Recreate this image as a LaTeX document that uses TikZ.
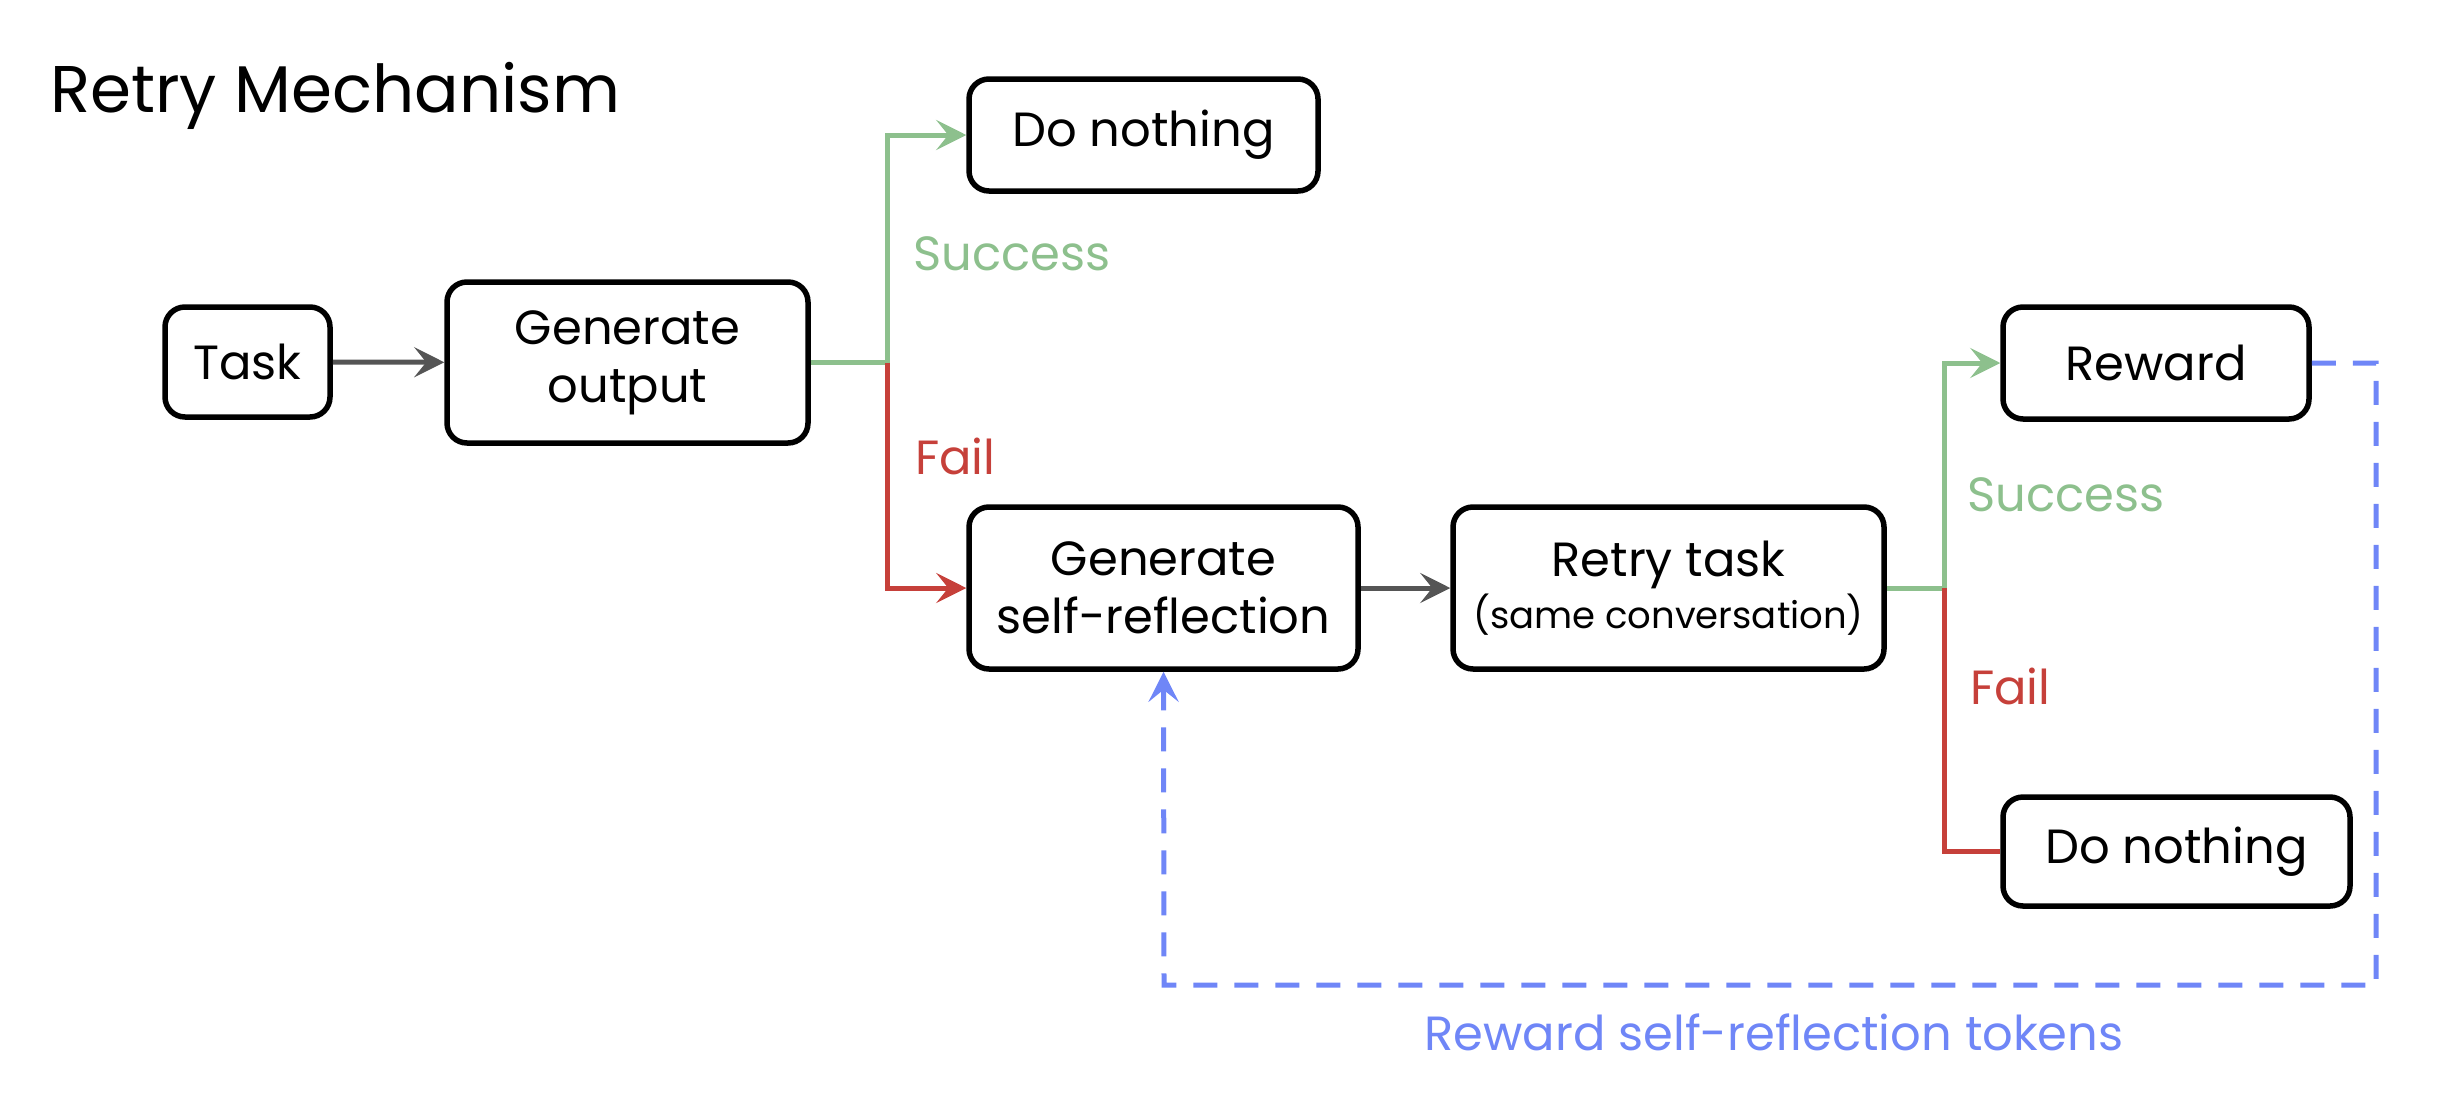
\documentclass[tikz,border=0pt]{standalone}
\usepackage{fontspec}
\setmainfont{Poppins}
\usetikzlibrary{arrows.meta,positioning}
\definecolor{okgreen}{HTML}{8DC08D}
\definecolor{failred}{HTML}{C6403A}
\definecolor{tokblue}{HTML}{6F86F7}
\definecolor{arrgrey}{HTML}{555555}
\tikzset{
  box/.style={draw=black,line width=5.5pt,rounded corners=20pt,align=center,font=\fontsize{48}{58}\selectfont,inner sep=0pt},
  conn/.style={line width=5pt},
  tip/.style={-{Stealth[length=30pt,width=30pt,inset=12pt]}},
  lbl/.style={font=\fontsize{48}{56}\selectfont,anchor=west,inner sep=0pt},
}
\begin{document}
\begin{tikzpicture}[x=1pt,y=-1pt]
\useasboundingbox (0,0) rectangle (2440,1098);
\node[anchor=base west,inner sep=0pt,font=\fontsize{66}{74}\selectfont] (title) at (50,112) {Retry Mechanism};
\node[box,minimum width=165pt,minimum height=110pt] (task) at (247.5,362) {Task};
\node[box,minimum width=361pt,minimum height=161pt] (gen) at (627.5,362.5) {Generate\\output};
\node[box,minimum width=349pt,minimum height=112pt] (dn1) at (1143.5,135) {Do nothing};
\node[box,minimum width=389pt,minimum height=162pt] (gsr) at (1163.5,588) {Generate\\self-reflection};
\node[box,minimum width=431pt,minimum height=162pt] (retry) at (1668.5,588) {Retry task\\[-6pt]{\fontsize{37}{44}\selectfont(same conversation)}};
\node[box,minimum width=306pt,minimum height=112pt] (reward) at (2156,363) {Reward};
\node[box,minimum width=347pt,minimum height=109pt] (dn2) at (2176.5,851.5) {Do nothing};
\coordinate (j1) at (887,362.5);
\coordinate (j2) at (1944,588);
\coordinate (b1) at (2376,363);
\coordinate (b2) at (2376,985);
\coordinate (b3) at (1164,985);
\draw[conn,arrgrey,tip] (task) -- (gen);
\draw[conn,arrgrey,tip] (gsr) -- (retry);
\draw[conn,okgreen] (gen.east) -- (j1);
\draw[conn,okgreen,tip] (j1) |- (dn1.west);
\draw[conn,failred,tip] (j1) |- (gsr.west);
\draw[conn,okgreen] (retry.east) -- (j2);
\draw[conn,okgreen,tip] (j2) |- (reward.west);
\draw[conn,failred] (j2) |- (dn2.west);
\draw[conn,tokblue,dash pattern=on 24pt off 17pt,tip] (reward.east) -- (b1) -- (b2) -- (b3) -- (gsr.south);
\node[lbl,text=okgreen] (s1) at (913,254) {Success};
\node[lbl,text=failred] (f1) at (915,456) {Fail};
\node[lbl,text=okgreen] (s2) at (1967,495) {Success};
\node[lbl,text=failred] (f2) at (1970,686) {Fail};
\node[font=\fontsize{48}{56}\selectfont,text=tokblue,inner sep=0pt] (tok) at (1774,1032) {Reward self-reflection tokens};
\end{tikzpicture}
\end{document}
